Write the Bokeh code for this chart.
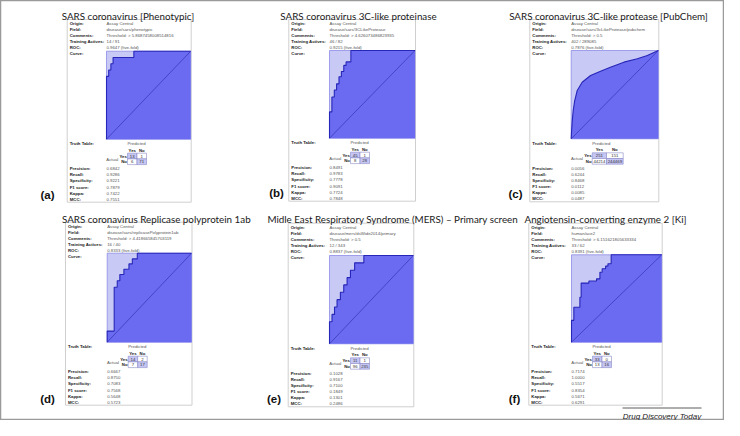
from bokeh.plotting import figure
from bokeh.models import Range1d, ColumnDataSource
from bokeh.embed import file_html
from bokeh.resources import INLINE
from bokeh.core.properties import value

# ---------------- data ----------------
tags = ["(a)", "(b)", "(c)", "(d)", "(e)", "(f)"]
titles = ["SARS coronavirus [Phenotypic]",
          "SARS coronavirus 3C-like proteinase",
          "SARS coronavirus 3C-like protease [PubChem]",
          "SARS coronavirus Replicase polyprotein 1ab",
          "Midle East Respiratory Syndrome (MERS) \u2013 Primary screen",
          "Angiotensin-converting enzyme 2 [Ki]"]
origins = ["Assay Central"] * 6
fields = ["disease/sars/phenotypic", "disease/sars/3CLikeProtease",
          "disease/sars/3cLikeProtease/pubchem", "disease/sars/replicasePolyprotein1ab",
          "disease/mers/dsWide2014/primary", "human/ace2"]
comments = ["Threshold: > 5.8687458008514816", "Threshold: > 4.626073486823935",
            "Threshold: > 0.5", "Threshold: > 4.418665845703119",
            "Threshold: > 0.5", "Threshold: > 6.151621805633334"]
training = ["14 / 91", "46 / 82", "402 / 289085", "16 / 40", "12 / 343", "33 / 62"]
roc_auc = ["0.9647", "0.9215", "0.7876", "0.8333", "0.8837", "0.8391"]
tp = [13, 45, 251, 14, 11, 33]
fn = [1, 1, 151, 2, 1, 0]
fp = [6, 8, 44214, 7, 96, 13]
tn = [71, 28, 244469, 17, 235, 16]
precision = ["0.6842", "0.8491", "0.0056", "0.6667", "0.1028", "0.7174"]
recall = ["0.9286", "0.9783", "0.6244", "0.8750", "0.9167", "1.0000"]
specificity = ["0.9221", "0.7778", "0.8468", "0.7083", "0.7100", "0.5517"]
f1 = ["0.7879", "0.9091", "0.0112", "0.7568", "0.1849", "0.8354"]
kappa = ["0.7422", "0.7724", "0.0085", "0.5648", "0.1301", "0.5671"]
mcc = ["0.7551", "0.7848", "0.0487", "0.5723", "0.2486", "0.6291"]

roc_a_fpr = [0, 0, 0.026, 0.026, 0.052, 0.052, 0.078, 0.078, 0.325, 0.325, 1]
roc_a_tpr = [0, 0.714, 0.714, 0.786, 0.786, 0.857, 0.857, 0.929, 0.929, 1, 1]
roc_b_fpr = [0, 0, 0.028, 0.028, 0.056, 0.056, 0.083, 0.083, 0.111, 0.111, 0.139, 0.139, 0.167, 0.167, 0.194, 0.194, 0.25, 0.25, 1]
roc_b_tpr = [0, 0.30, 0.30, 0.47, 0.47, 0.55, 0.55, 0.62, 0.62, 0.70, 0.70, 0.76, 0.76, 0.83, 0.83, 0.87, 0.87, 1, 1]
roc_c_fpr = [0, 0.005, 0.012, 0.023, 0.04, 0.069, 0.126, 0.222, 0.337, 0.45, 0.605, 0.759, 0.874, 1]
roc_c_tpr = [0, 0.10, 0.20, 0.32, 0.43, 0.547, 0.64, 0.717, 0.766, 0.81, 0.868, 0.906, 0.943, 1]
roc_d_fpr = [0, 0, 0.083, 0.083, 0.119, 0.119, 0.15, 0.15, 0.198, 0.198, 0.258, 0.258, 0.298, 0.298, 0.357, 0.357, 1]
roc_d_tpr = [0, 0.125, 0.125, 0.618, 0.618, 0.69, 0.69, 0.76, 0.76, 0.82, 0.82, 0.88, 0.88, 0.936, 0.936, 1, 1]
roc_e_fpr = [0, 0, 0.03, 0.03, 0.06, 0.06, 0.09, 0.09, 0.13, 0.13, 0.17, 0.17, 0.21, 0.21, 0.25, 0.25, 0.30, 0.30, 0.41, 0.41, 1]
roc_e_tpr = [0, 0.25, 0.25, 0.333, 0.333, 0.417, 0.417, 0.5, 0.5, 0.583, 0.583, 0.667, 0.667, 0.75, 0.75, 0.833, 0.833, 0.917, 0.917, 1, 1]
roc_f_fpr = [0, 0, 0.026, 0.026, 0.093, 0.093, 0.107, 0.107, 0.193, 0.193, 0.278, 0.278, 0.315, 0.315, 0.34, 0.34, 0.378, 0.378, 0.404, 0.404, 0.44, 0.44, 1]
roc_f_tpr = [0, 0.25, 0.25, 0.40, 0.40, 0.515, 0.515, 0.676, 0.676, 0.70, 0.70, 0.725, 0.725, 0.80, 0.80, 0.84, 0.84, 0.87, 0.87, 0.897, 0.897, 1, 1]
roc_fpr = [roc_a_fpr, roc_b_fpr, roc_c_fpr, roc_d_fpr, roc_e_fpr, roc_f_fpr]
roc_tpr = [roc_a_tpr, roc_b_tpr, roc_c_tpr, roc_d_tpr, roc_e_tpr, roc_f_tpr]

row_labels = ["Origin:", "Field:", "Comments:", "Training Actives:", "ROC:", "Curve:"]
metric_labels = ["Precision:", "Recall:", "Specificity:", "F1 score:", "Kappa:", "MCC:"]
footer = "Drug Discovery Today"

# ---------------- layout (picture pixels) ----------------
card_l = [66.7, 288.3, 529.3, 65.0, 287.7, 528.3]
card_t = [19.0, 19.0, 19.0, 221.7, 222.7, 222.7]
card_r = [190.7, 415.0, 658.3, 191.5, 413.3, 661.7]
roc_l = [106.0, 329.0, 570.7, 106.7, 329.0, 571.0]
roc_t = [50.7, 50.0, 50.0, 252.7, 255.0, 254.3]
roc_b = [138.7, 137.7, 138.3, 341.7, 343.3, 341.7]
title_x = [127.5, 358.0, 608.0, 155.8, 392.3, 605.0]
title_y = [15.5, 15.5, 15.5, 218.5, 218.5, 218.5]
tag_x = [47, 276, 515, 47, 273.5, 514]
tag_y = [194, 192, 193, 398, 398, 398.5]

FPX = "4.3px"
SANS = value("Liberation Sans")

p = figure(width=724, height=420, x_range=Range1d(0, 724), y_range=Range1d(420, 0),
           x_axis_type=None, y_axis_type=None, output_backend="svg",
           toolbar_location=None, min_border=0, background_fill_color="white",
           border_fill_color="white", outline_line_color="#9a9a9a", outline_line_width=1.5)

# cards
cb = [b + 63 for b in roc_b]
p.quad(left=card_l, right=card_r, top=card_t, bottom=cb, fill_color="white",
       line_color="#cfcfcf", line_width=1)

lab = dict(x=[], y=[], t=[])
val = dict(x=[], y=[], t=[])
act = dict(x=[], y=[], t=[])
cell = dict(l=[], r=[], t=[], b=[], c=[])
ctext = dict(x=[], y=[], t=[])
hdr = dict(x=[], y=[], t=[], a=[])

for i in range(6):
    L, T, R = card_l[i], card_t[i], card_r[i]
    rl, rt, rb = roc_l[i], roc_t[i], roc_b[i]
    rr = R - 0.5
    # ROC background + curve
    p.quad(left=[rl], right=[rr], top=[rt], bottom=[rb], fill_color="#c9c9f5",
           line_color="#8c8ce6", line_width=0.8)
    xs = [rl + f * (rr - rl) for f in roc_fpr[i]]
    ys = [rb - t * (rb - rt) for t in roc_tpr[i]]
    p.patch(xs + [rr], ys + [rb], fill_color="#6b6bf1", line_color=None)
    p.line(xs, ys, line_color="#2626b8", line_width=1.1)
    p.line([rl, rr], [rb, rt], line_color="#2a2aa8", line_width=0.6)
    # top rows
    vals = [origins[i], fields[i], comments[i], training[i], roc_auc[i] + " (five-fold)", ""]
    for k in range(6):
        y = T + 3.9 + 6 * k
        lab["x"].append(L + 2.5); lab["y"].append(y); lab["t"].append(row_labels[k])
        val["x"].append(rl); val["y"].append(y); val["t"].append(vals[k])
    # truth table
    lab["x"].append(L + 2.5); lab["y"].append(rb + 4.3); lab["t"].append("Truth Table:")
    nd1 = max(len(str(tp[i])), len(str(fp[i])))
    nd2 = max(len(str(fn[i])), len(str(tn[i])))
    w1 = max(9.5, 2.4 * nd1 + 2.3)
    w2 = max(9.5, 2.4 * nd2 + 2.3)
    c0 = rl + 21
    c1 = c0 + w1
    c2 = c1 + w2
    r0 = rb + 14
    r1 = r0 + 5.7
    r2 = r1 + 5.7
    val["x"].append(c0); val["y"].append(rb + 4.3); val["t"].append("Predicted")
    hdr["x"] += [(c0 + c1) / 2, (c1 + c2) / 2, c0 - 0.6, c0 - 0.6]
    hdr["y"] += [rb + 10.8, rb + 10.8, (r0 + r1) / 2, (r1 + r2) / 2]
    hdr["t"] += ["Yes", "No", "Yes", "No"]
    hdr["a"] += ["center", "center", "right", "right"]
    act["x"].append(c0 - 9.2); act["y"].append(r1 + 0.4); act["t"].append("Actual")
    cell["l"] += [c0, c1, c0, c1]
    cell["r"] += [c1, c2, c1, c2]
    cell["t"] += [r0, r0, r1, r1]
    cell["b"] += [r1, r1, r2, r2]
    cell["c"] += ["#c6c6f4", "white", "white", "#c6c6f4"]
    ctext["x"] += [(c0 + c1) / 2, (c1 + c2) / 2, (c0 + c1) / 2, (c1 + c2) / 2]
    ctext["y"] += [(r0 + r1) / 2, (r0 + r1) / 2, (r1 + r2) / 2, (r1 + r2) / 2]
    ctext["t"] += [str(tp[i]), str(fn[i]), str(fp[i]), str(tn[i])]
    mvals = [precision[i], recall[i], specificity[i], f1[i], kappa[i], mcc[i]]
    for k in range(6):
        y = rb + 29.5 + 6.1 * k
        lab["x"].append(L + 2.5); lab["y"].append(y); lab["t"].append(metric_labels[k])
        val["x"].append(rl); val["y"].append(y); val["t"].append(mvals[k])

p.text(x="x", y="y", text="t", source=ColumnDataSource(lab), text_font=SANS,
       text_font_size=FPX, text_font_style="bold", text_color="#1a1a1a",
       text_baseline="middle", text_align="left")
p.text(x="x", y="y", text="t", source=ColumnDataSource(val), text_font=SANS,
       text_font_size=FPX, text_color="#555555", text_baseline="middle", text_align="left")
p.text(x="x", y="y", text="t", source=ColumnDataSource(act), text_font=SANS,
       text_font_size=FPX, text_color="#555555", text_baseline="middle", text_align="right")
p.quad(left="l", right="r", top="t", bottom="b", fill_color="c", line_color="#8a8ac8",
       line_width=0.6, source=ColumnDataSource(cell))
p.text(x="x", y="y", text="t", source=ColumnDataSource(ctext), text_font=SANS,
       text_font_size=FPX, text_color="#333333", text_baseline="middle", text_align="center")
p.text(x="x", y="y", text="t", source=ColumnDataSource(hdr), text_font=SANS, text_font_size=FPX,
       text_font_style="bold", text_color="#1a1a1a", text_baseline="middle", text_align="a")

# titles and tags
p.text(x=title_x, y=title_y, text=titles, text_font=value("Lato"), text_font_size="9.8px",
       text_color="#1a1a1a", text_baseline="alphabetic", text_align="center")
p.text(x=tag_x, y=tag_y, text=tags, text_font=SANS, text_font_size="11.5px",
       text_font_style="bold", text_color="#111111", text_baseline="middle", text_align="center")

# footer
p.line([622, 701], [407.5, 407.5], line_color="#333333", line_width=0.8)
p.text(x=[661.5], y=[415.5], text=[footer], text_font=SANS, text_font_size="8px",
       text_font_style="italic", text_color="#222222", text_baseline="alphabetic",
       text_align="center")

open("out.html", "w").write(file_html(p, INLINE))
